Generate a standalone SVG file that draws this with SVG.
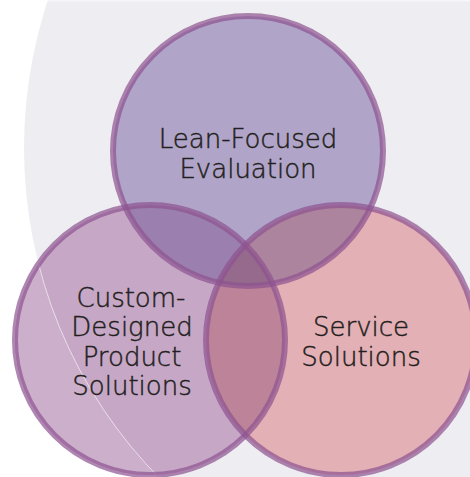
<svg xmlns="http://www.w3.org/2000/svg" width="470" height="477" viewBox="0 0 470 477">
<defs>
<style>
.lbl{font-family:"DejaVu Sans","Lato",sans-serif;font-size:26px;fill:#231f20;stroke:#231f20;stroke-width:0.45;text-anchor:middle;font-weight:200}
.ring{fill:none;stroke:#8d5290;stroke-opacity:0.7;stroke-width:6}
</style>
<clipPath id="cT"><circle cx="248" cy="151" r="135"/></clipPath>
<clipPath id="cL"><circle cx="150" cy="340" r="135"/></clipPath>
<clipPath id="cOut"><path clip-rule="evenodd" d="M0 0H470V477H0Z M24 148A470 470 0 1 0 964 148A470 470 0 1 0 24 148Z"/></clipPath>
</defs>
<rect width="470" height="477" fill="#ffffff"/>
<circle cx="494" cy="148" r="470" fill="#eeedf2"/>
<rect x="0" y="0" width="470" height="1.5" fill="#ffffff" opacity="0.5"/>
<g id="fills">
<circle cx="248" cy="151" r="135" fill="#b0a5c8"/>
<circle cx="150" cy="340" r="135" fill="#c6a8c6"/>
<circle cx="341" cy="340" r="135" fill="#e3b0b5"/>
<g clip-path="url(#cOut)"><circle cx="150" cy="340" r="135" fill="#ccafcb"/></g>
<g clip-path="url(#cL)"><circle cx="494" cy="148" r="470" fill="none" stroke="#ffffff" stroke-opacity="0.6" stroke-width="1"/></g>
<circle cx="150" cy="340" r="135" fill="#9b7fae" clip-path="url(#cT)"/>
<circle cx="341" cy="340" r="135" fill="#ad849e" clip-path="url(#cT)"/>
<circle cx="341" cy="340" r="135" fill="#bd8499" clip-path="url(#cL)"/>
<g clip-path="url(#cT)"><circle cx="341" cy="340" r="135" fill="#956a8c" clip-path="url(#cL)"/></g>
</g>
<g id="node-lean">
<circle class="ring" cx="248" cy="151" r="135"/>
<text class="lbl" x="248" y="148">Lean-Focused</text>
<text class="lbl" x="248" y="177.5">Evaluation</text>
</g>
<g id="node-custom">
<circle class="ring" cx="150" cy="340" r="135"/>
<text class="lbl" x="131" y="307">Custom-</text>
<text class="lbl" x="132" y="336">Designed</text>
<text class="lbl" x="132" y="365.5">Product</text>
<text class="lbl" x="132" y="395">Solutions</text>
</g>
<g id="node-service">
<circle class="ring" cx="341" cy="340" r="135"/>
<text class="lbl" x="361" y="336">Service</text>
<text class="lbl" x="361" y="365.5">Solutions</text>
</g>
</svg>
